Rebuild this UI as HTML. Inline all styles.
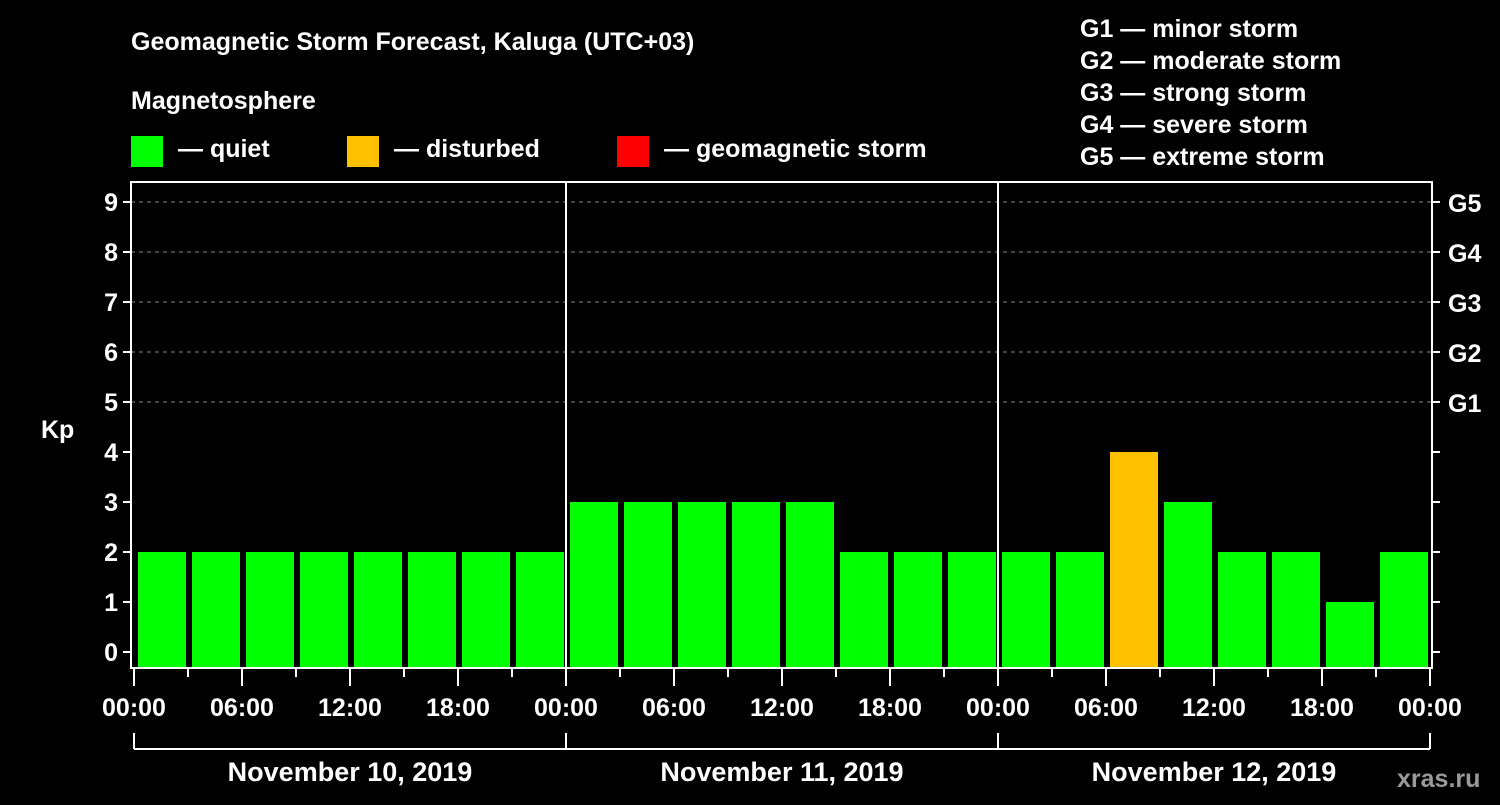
<!DOCTYPE html>
<html><head><meta charset="utf-8"><style>
body{margin:0;background:#000;width:1500px;height:800px;overflow:hidden}
svg text{font-family:"Liberation Sans",Arial,sans-serif;font-weight:bold;fill:#fff}
</style></head><body>
<svg id="c" width="1500" height="800" xmlns="http://www.w3.org/2000/svg">
<rect width="1500" height="800" fill="#000"/>
<text x="131" y="50" font-size="25">Geomagnetic Storm Forecast, Kaluga (UTC+03)</text>
<text x="131" y="109" font-size="25">Magnetosphere</text>
<g><rect x="131" y="136" width="32" height="31" fill="#00ff00"/><text x="178" y="157" font-size="25">— quiet</text></g>
<g><rect x="347" y="136" width="32" height="31" fill="#ffc000"/><text x="394" y="157" font-size="25">— disturbed</text></g>
<g><rect x="617" y="136" width="32" height="31" fill="#ff0000"/><text x="664" y="157" font-size="25">— geomagnetic storm</text></g>
<g font-size="25">
<text x="1080" y="37">G1 — minor storm</text>
<text x="1080" y="69">G2 — moderate storm</text>
<text x="1080" y="101">G3 — strong storm</text>
<text x="1080" y="133">G4 — severe storm</text>
<text x="1080" y="165">G5 — extreme storm</text>
</g>
<text x="41" y="438" font-size="25">Kp</text>
<text x="1397" y="787" font-size="25" fill="#999" style="fill:#9a9a9a">xras.ru</text>
<g id="plot"></g>
</svg>
<script>
const kpValues=[2,2,2,2,2,2,2,2,3,3,3,3,3,2,2,2,2,2,4,3,2,2,1,2];
const kpColors=["g","g","g","g","g","g","g","g","g","g","g","g","g","g","g","g","g","g","y","g","g","g","g","g"];
const yTicks=[0,1,2,3,4,5,6,7,8,9];
const gLabels=["G1","G2","G3","G4","G5"];
const xTickLabels=["00:00","06:00","12:00","18:00","00:00","06:00","12:00","18:00","00:00","06:00","12:00","18:00","00:00"];
const dayLabels=["November 10, 2019","November 11, 2019","November 12, 2019"];
const NS="http://www.w3.org/2000/svg";
const plot=document.getElementById('plot');
const X0=134,HOUR=18,Y0=652,UNIT=50,TOP=182,BOT=668,LEFT=131,RIGHT=1432;
const xs=h=>X0+h*HOUR, ys=v=>Y0-v*UNIT;
const colorMap={g:"#00ff00",y:"#ffc000",r:"#ff0000"};
function mk(tag,attrs){const e=document.createElementNS(NS,tag);for(const k in attrs)e.setAttribute(k,attrs[k]);plot.appendChild(e);return e;}
yTicks.forEach(v=>{if(v>=5){const l=mk('line',{x1:LEFT,x2:RIGHT,y1:ys(v),y2:ys(v),stroke:'#888','stroke-dasharray':'4,4','stroke-width':1});

}});
kpValues.forEach((v,i)=>{const r=mk('rect',{x:xs(i*3)+4,y:ys(v),width:3*HOUR-6,height:667-ys(v),fill:colorMap[kpColors[i]]});

});
[1,2].forEach(d=>{const l=mk('line',{x1:xs(d*24),x2:xs(d*24),y1:TOP,y2:BOT,stroke:'#fff','stroke-width':2});

});
const fr=mk('rect',{x:LEFT,y:TOP,width:RIGHT-LEFT,height:BOT-TOP,fill:'none',stroke:'#fff','stroke-width':2});


yTicks.forEach(v=>{mk('line',{x1:LEFT-8,x2:LEFT,y1:ys(v),y2:ys(v),stroke:'#fff','stroke-width':2});
mk('line',{x1:RIGHT,x2:RIGHT+8,y1:ys(v),y2:ys(v),stroke:'#fff','stroke-width':2});
const t=mk('text',{x:LEFT-13,y:ys(v)+9,'font-size':25,'text-anchor':'end'});t.textContent=v;

});
gLabels.forEach((g,i)=>{const t=mk('text',{x:1448,y:ys(i+5)+10,'font-size':25});t.textContent=g;

});
for(let h=0;h<=72;h+=3){const major=h%6===0;mk('line',{x1:xs(h),x2:xs(h),y1:BOT,y2:major?686:677,stroke:'#fff','stroke-width':2});}
xTickLabels.forEach((s,i)=>{const t=mk('text',{x:xs(i*6),y:716,'font-size':25,'text-anchor':'middle'});t.textContent=s;

});
mk('line',{x1:xs(0),x2:xs(72),y1:749,y2:749,stroke:'#fff','stroke-width':2});
[0,1,2,3].forEach(d=>mk('line',{x1:xs(d*24),x2:xs(d*24),y1:733,y2:749,stroke:'#fff','stroke-width':2}));
dayLabels.forEach((s,i)=>{const t=mk('text',{x:xs(i*24+12),y:781,'font-size':27,'text-anchor':'middle'});t.textContent=s;

});
</script>
</body></html>
